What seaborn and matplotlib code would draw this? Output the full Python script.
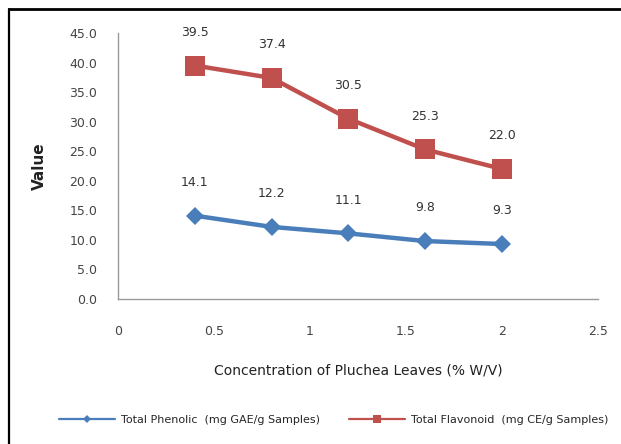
import matplotlib
matplotlib.use("Agg")
import matplotlib.pyplot as plt
import seaborn as sns
import pandas as pd
from matplotlib.lines import Line2D

concentration = [0.4, 0.8, 1.2, 1.6, 2.0]
phenolic = [14.1, 12.2, 11.1, 9.8, 9.3]
flavonoid = [39.5, 37.4, 30.5, 25.3, 22.0]
phenolic_name = "Total Phenolic  (mg GAE/g Samples)"
flavonoid_name = "Total Flavonoid  (mg CE/g Samples)"
y_ticks = [0, 5, 10, 15, 20, 25, 30, 35, 40, 45]
x_ticks = [0, 0.5, 1, 1.5, 2, 2.5]

sns.set_theme(style="white")
plt.rcParams['font.family'] = ['DejaVu Sans']

df = pd.DataFrame({
    "x": concentration * 2,
    "y": phenolic + flavonoid,
    "series": [phenolic_name] * 5 + [flavonoid_name] * 5,
})

fig = plt.figure(figsize=(6.21, 4.44), dpi=100)
ax = fig.add_axes([0.19, 0.3266, 0.773, 0.599])

blue = "#4A7EBB"
red = "#C0504D"
sns.lineplot(data=df, x="x", y="y", hue="series", style="series",
             markers={phenolic_name: "D", flavonoid_name: "s"},
             dashes=False, palette={phenolic_name: blue, flavonoid_name: red},
             linewidth=3.2, markersize=9, markeredgewidth=0, ax=ax, legend=False)
for line in ax.get_lines():
    if line.get_marker() == "s":
        line.set_markersize(14)

for xs, ys in [(concentration, phenolic), (concentration, flavonoid)]:
    for xv, yv in zip(xs, ys):
        ax.annotate(f"{yv:.1f}", (xv, yv), xytext=(0, 24), textcoords="offset points",
                    ha="center", va="center", fontsize=9, color="#333333")

ax.set_xlim(0, 2.5)
ax.set_ylim(0, 45)
ax.set_xticks(x_ticks)
ax.set_xticklabels(["0", "0.5", "1", "1.5", "2", "2.5"])
ax.set_yticks(y_ticks)
ax.set_yticklabels([f"{v:.1f}" for v in y_ticks])
for s in ["top", "right"]:
    ax.spines[s].set_visible(False)
for s in ["left", "bottom"]:
    ax.spines[s].set_color("#999999")
    ax.spines[s].set_linewidth(1.0)
ax.tick_params(axis="both", which="both", direction="out", length=4, width=1,
               color="#999999", labelsize=9, labelcolor="#444444")
ax.tick_params(axis="x", pad=15)
ax.tick_params(axis="y", pad=11)
ax.set_xlabel("Concentration of Pluchea Leaves (% W/V)", fontsize=10, color="#222222", labelpad=18)
ax.set_ylabel("Value", fontsize=11, fontweight="bold", color="#222222", labelpad=16)

handles = [
    Line2D([], [], color=blue, marker="D", markersize=4, linewidth=1.6, markeredgewidth=0),
    Line2D([], [], color=red, marker="s", markersize=6, linewidth=1.6, markeredgewidth=0),
]
fig.legend(handles, [phenolic_name, flavonoid_name], loc="center left",
           bbox_to_anchor=(0.095, 0.054), ncol=2, frameon=False, fontsize=8,
           handlelength=5.0, columnspacing=2.6, handletextpad=0.6, borderpad=0,
           borderaxespad=0)

fig.add_artist(Line2D([0.0145, 0.0145], [0, 0.98], transform=fig.transFigure, color="black", linewidth=1.6))
fig.add_artist(Line2D([0.0145, 1.0], [0.98, 0.98], transform=fig.transFigure, color="black", linewidth=2.0))

fig.savefig("out.png", dpi=100)
